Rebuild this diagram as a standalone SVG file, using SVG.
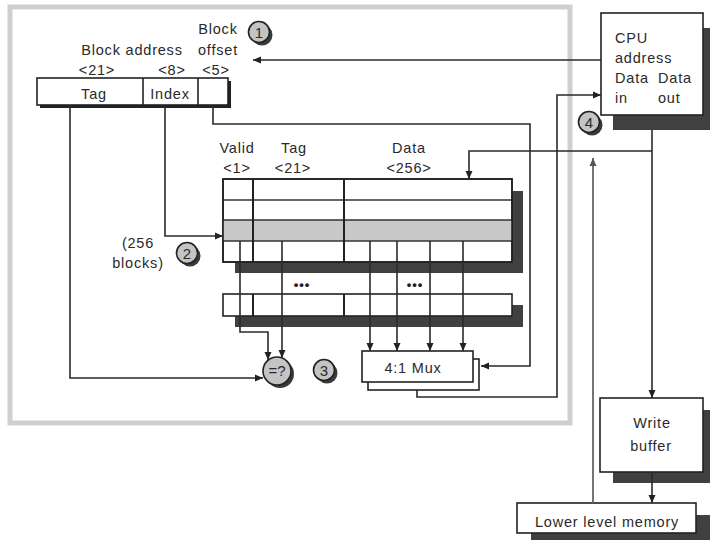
<svg xmlns="http://www.w3.org/2000/svg" width="710" height="540" viewBox="0 0 710 540">
<defs>
<marker id="ah" markerUnits="userSpaceOnUse" markerWidth="9" markerHeight="8" refX="8" refY="4" orient="auto"><path d="M0,0.5 L8,4 L0,7.5 z" fill="#222"/></marker>
<marker id="ahg" markerUnits="userSpaceOnUse" markerWidth="9" markerHeight="8" refX="8" refY="4" orient="auto"><path d="M0,0.5 L8,4 L0,7.5 z" fill="#555"/></marker>
</defs>
<style>
text{font-family:"Liberation Sans",Arial,sans-serif;font-size:14.5px;fill:#2a2a2a;letter-spacing:0.8px}
.c{text-anchor:middle}
.box{fill:#fff;stroke:#222;stroke-width:1.6}
.sh{fill:#404040}
.row{fill:none;stroke:#333;stroke-width:1.3}
.col{stroke:#222;stroke-width:2}
.ln{fill:none;stroke:#2a2a2a;stroke-width:1.6}
.lg{fill:none;stroke:#666;stroke-width:1.8}
.num{fill:#c4c4c4;stroke:#222;stroke-width:1.6}
.nsh{fill:#3a3a3a}
.dots{font-size:13px;letter-spacing:1px;fill:#222;font-weight:bold}
.n{letter-spacing:0;font-size:15px}
</style>
<rect x="0" y="0" width="710" height="540" fill="#fff"/>
<rect id="frame" x="10" y="7" width="560" height="416" fill="none" stroke="#cfcfcf" stroke-width="5"/>

<g id="address">
<rect x="40" y="81" width="191" height="27" fill="#222"/>
<rect x="37" y="78" width="191" height="27" class="box"/>
<line x1="143" y1="78" x2="143" y2="105" stroke="#222" stroke-width="1.6"/>
<line x1="198" y1="78" x2="198" y2="105" stroke="#222" stroke-width="1.6"/>
<text x="94" y="99" class="c">Tag</text>
<text x="170" y="99" class="c">Index</text>
<text x="132" y="55" class="c">Block address</text>
<text x="218" y="34" class="c">Block</text>
<text x="218" y="55" class="c">offset</text>
<text x="97" y="75" class="c">&lt;21&gt;</text>
<text x="172" y="75" class="c">&lt;8&gt;</text>
<text x="216" y="75" class="c">&lt;5&gt;</text>
</g>

<g id="cache">
<rect x="235" y="191" width="288" height="82" class="sh"/>
<rect x="223" y="179" width="289" height="83" class="box"/>
<rect x="223" y="220" width="289" height="21" fill="#c8c8c8"/>
<path d="M223,200 H512 M223,220 H512 M223,241 H512" class="row"/>
<rect x="223" y="179" width="289" height="83" fill="none" stroke="#222" stroke-width="1.6"/>
<line x1="253" y1="179" x2="253" y2="262" class="col"/>
<line x1="344" y1="179" x2="344" y2="262" class="col"/>
<rect x="235" y="305" width="288" height="22" class="sh"/>
<rect x="223" y="294" width="289" height="22" class="box"/>
<line x1="253" y1="294" x2="253" y2="316" class="col"/>
<line x1="344" y1="294" x2="344" y2="316" class="col"/>
<text x="302" y="289" class="c dots">•••</text>
<text x="415" y="289" class="c dots">•••</text>
<text x="237" y="153" class="c">Valid</text>
<text x="237" y="173" class="c">&lt;1&gt;</text>
<text x="294" y="153" class="c">Tag</text>
<text x="293" y="173" class="c">&lt;21&gt;</text>
<text x="409" y="153" class="c">Data</text>
<text x="409" y="173" class="c">&lt;256&gt;</text>
<text x="138" y="248" class="c">(256</text>
<text x="138" y="268" class="c">blocks)</text>
</g>

<g id="mux">
<rect x="368" y="359" width="111" height="31" class="box"/>
<rect x="362" y="351" width="111" height="31" class="box"/>
<text x="413" y="373" class="c">4:1 Mux</text>
</g>

<g id="compare">
<circle cx="280" cy="374" r="14" class="nsh"/>
<circle cx="277" cy="371" r="14" class="num"/>
<text x="277" y="376" class="c n">=?</text>
</g>

<g id="cpu">
<rect x="613" y="28" width="100" height="102" class="sh"/>
<rect x="601" y="13" width="102" height="102" class="box"/>
<text x="615" y="43">CPU</text>
<text x="615" y="63">address</text>
<text x="615" y="83">Data</text>
<text x="658" y="83">Data</text>
<text x="615" y="103">in</text>
<text x="658" y="103">out</text>
</g>

<g id="writebuffer">
<rect x="613" y="410" width="100" height="73" class="sh"/>
<rect x="600" y="398" width="103" height="74" class="box"/>
<text x="652" y="428" class="c">Write</text>
<text x="651" y="451" class="c">buffer</text>
</g>

<g id="lowermem">
<rect x="531" y="515" width="185" height="30" class="sh"/>
<rect x="517" y="503" width="179" height="30" class="box"/>
<text x="607" y="527" class="c">Lower level memory</text>
</g>

<g id="steps">
<circle cx="262" cy="35" r="10.5" class="nsh"/>
<circle cx="259" cy="32" r="10.5" class="num"/>
<text x="259" y="37.5" class="c n">1</text>
<circle cx="190" cy="256" r="10.5" class="nsh"/>
<circle cx="187" cy="253" r="10.5" class="num"/>
<text x="187" y="258.5" class="c n">2</text>
<circle cx="327" cy="373" r="10.5" class="nsh"/>
<circle cx="324" cy="370" r="10.5" class="num"/>
<text x="324" y="375.5" class="c n">3</text>
<circle cx="592" cy="125" r="10.5" class="nsh"/>
<circle cx="589" cy="122" r="10.5" class="num"/>
<text x="589" y="127.5" class="c n">4</text>
</g>

<g id="connectors">
<path d="M601,60 H253" class="ln" marker-end="url(#ah)"/>
<path d="M213,105 V124 H530 V366 H481" class="ln" marker-end="url(#ah)"/>
<path d="M70,105 V378 H263" class="ln" marker-end="url(#ah)"/>
<path d="M165,105 V236 H223" class="ln" marker-end="url(#ah)"/>
<path d="M240,241 V332 H268 V360" class="ln" marker-end="url(#ah)"/>
<path d="M282,241 V358" class="ln" marker-end="url(#ah)"/>
<path d="M370,241 V351" class="ln" marker-end="url(#ah)"/>
<path d="M397,241 V351" class="ln" marker-end="url(#ah)"/>
<path d="M430,241 V351" class="ln" marker-end="url(#ah)"/>
<path d="M463,241 V351" class="ln" marker-end="url(#ah)"/>
<path d="M417,390 V397 H557 V95 H601" class="ln" marker-end="url(#ah)"/>
<path d="M652,130 V398" class="ln" marker-end="url(#ah)"/>
<path d="M652,151 H469 V179" class="ln" marker-end="url(#ah)"/>
<path d="M652,472 V503" class="ln" marker-end="url(#ah)"/>
<path d="M593,503 V158" class="lg" marker-end="url(#ahg)"/>
</g>
</svg>
